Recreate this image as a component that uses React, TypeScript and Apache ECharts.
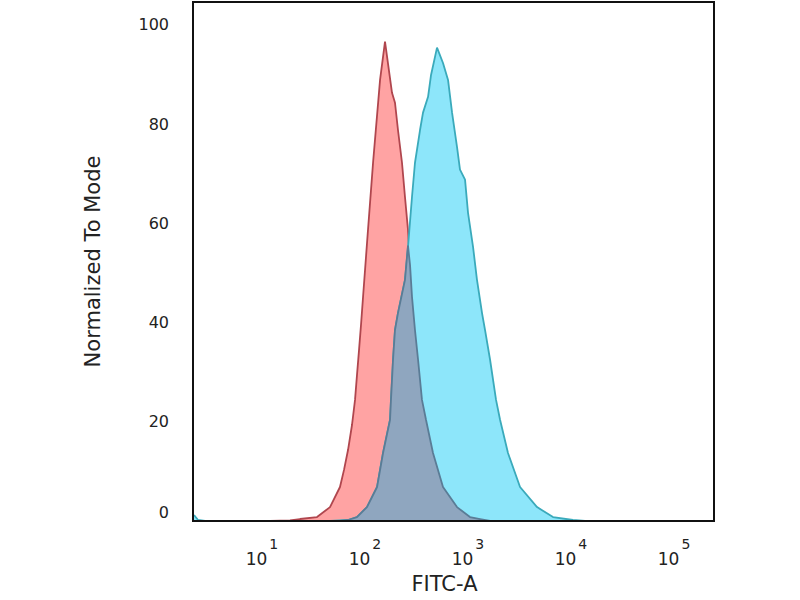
import React, { useEffect, useRef } from "react";
import * as echarts from "echarts";

// x values are log10(FITC-A); y values are "Normalized To Mode"
const redX = [1.078, 1.272, 1.369, 1.534, 1.66, 1.757, 1.796, 1.835, 1.874, 1.903, 1.922, 1.942, 1.961, 1.981, 2.029, 2.078, 2.146, 2.194, 2.262, 2.291, 2.32, 2.359, 2.388, 2.417, 2.456, 2.485, 2.515, 2.553, 2.592, 2.66, 2.757, 2.893, 3.019, 3.117, 3.214];
const redY = [0, 0.1, 0.4, 0.8, 2.8, 6.85, 10.3, 14.3, 19.4, 24.4, 29.4, 34.5, 39.5, 45.2, 58.7, 72.2, 88.9, 96.6, 86.3, 84.3, 78.8, 72.2, 65.3, 58.7, 45.2, 38.5, 32.5, 24.4, 20.4, 13.7, 6.85, 2.8, 0.8, 0.4, 0];

const cyanX = [0.34, 0.379, 0.447, 1.66, 1.835, 1.922, 2.019, 2.117, 2.175, 2.243, 2.252, 2.272, 2.291, 2.32, 2.388, 2.417, 2.456, 2.485, 2.534, 2.563, 2.612, 2.641, 2.699, 2.757, 2.806, 2.845, 2.893, 2.922, 2.971, 3.0, 3.049, 3.087, 3.136, 3.165, 3.214, 3.272, 3.311, 3.388, 3.505, 3.67, 3.825, 4.019, 4.136, 5.35];
const cyanY = [1.2, 0.2, 0, 0, 0.2, 0.8, 2.8, 6.85, 13.7, 20.4, 24.4, 32.5, 38.5, 41.9, 48.6, 55.2, 65.3, 72.2, 78.8, 82.3, 85.5, 89.9, 95.4, 92.3, 88.9, 82.3, 75.4, 70.8, 68.8, 62.1, 55.2, 48.6, 41.9, 38.5, 32.5, 24.4, 20.4, 13.7, 6.85, 2.8, 0.8, 0.2, 0, 0];

// region where both histograms overlap
const overlapX = [1.757, 1.835, 1.922, 2.019, 2.117, 2.175, 2.243, 2.252, 2.272, 2.291, 2.32, 2.388, 2.417, 2.437, 2.456, 2.485, 2.515, 2.553, 2.592, 2.66, 2.757, 2.893, 3.019, 3.117, 3.214];
const overlapY = [0, 0.2, 0.8, 2.8, 6.85, 13.7, 20.4, 24.4, 32.5, 38.5, 41.9, 48.6, 55.5, 51.6, 45.2, 38.5, 32.5, 24.4, 20.4, 13.7, 6.85, 2.8, 0.8, 0.4, 0];

const xTicks = [1, 2, 3, 4, 5];
const yTicks = [0, 20, 40, 60, 80, 100];

const zip = (xs: number[], ys: number[]) => xs.map((x, i) => [x, ys[i]]);

const FONT = "DejaVu Sans";

export default function App() {
  const ref = useRef<HTMLDivElement>(null);
  useEffect(() => {
    if (!ref.current) return;
    const chart = echarts.init(ref.current, undefined, { renderer: "svg" });
    const lineSeries = (name: string, data: number[][], fill: string, stroke: string, z: number) => ({
      name,
      type: "line",
      data,
      showSymbol: false,
      symbol: "none",
      smooth: false,
      z,
      lineStyle: { color: stroke, width: 1.8 },
      areaStyle: { color: fill, opacity: 1, origin: "start" },
    });
    chart.setOption({
      animation: false,
      backgroundColor: "#ffffff",
      grid: {
        left: 193,
        right: 86,
        top: 2,
        bottom: 79,
        containLabel: false,
        outerBoundsMode: "none",
        show: true,
        borderColor: "#111",
        borderWidth: 2,
      },
      xAxis: {
        type: "value",
        min: 0.33,
        max: 5.388,
        z: 5,
        name: "FITC-A",
        nameLocation: "middle",
        nameGap: 52,
        nameTextStyle: { fontFamily: FONT, fontSize: 21, color: "#222", padding: [0, 18, 0, 0] },
        splitLine: { show: false },
        axisTick: { show: false },
        axisLine: { show: true, onZero: false, lineStyle: { color: "#111", width: 2 } },
        axisLabel: {
          customValues: xTicks,
          margin: 16,
          formatter: (v: number) => `{b|10}{s|${v}}`,
          rich: {
            b: { fontFamily: FONT, fontSize: 17, color: "#222", lineHeight: 30, verticalAlign: "bottom" },
            s: { fontFamily: FONT, fontSize: 14, color: "#222", lineHeight: 30, verticalAlign: "top", padding: [0, 0, 0, 2] },
          },
        },
      },
      yAxis: {
        type: "value",
        min: 0,
        max: 104.6,
        z: 5,
        name: "Normalized To Mode",
        nameLocation: "middle",
        nameGap: 90,
        nameTextStyle: { fontFamily: FONT, fontSize: 21, color: "#222" },
        splitLine: { show: false },
        axisTick: { show: false },
        axisLine: { show: true, lineStyle: { color: "#111", width: 2 } },
        axisLabel: {
          customValues: yTicks,
          margin: 24,
          fontFamily: FONT,
          fontSize: 16,
          color: "#222",
          formatter: (v: number) => (v === 0 ? "{z|0}" : String(v)),
          rich: {
            z: { fontFamily: FONT, fontSize: 16, color: "#222", padding: [0, 0, 18, 0] },
          },
        },
      },
      series: [
        lineSeries("Control", zip(redX, redY), "#ffa3a3", "#b0464e", 2),
        lineSeries("Sample", zip(cyanX, cyanY), "#8de6fa", "#3aaabb", 3),
        lineSeries("Overlap", zip(overlapX, overlapY), "#8fa6bf", "#5a7c96", 4),
      ],
    });
    return () => chart.dispose();
  }, []);
  return (
    <div
      ref={ref}
      style={{ position: "absolute", left: 0, top: 0, width: 800, height: 600 }}
    />
  );
}
